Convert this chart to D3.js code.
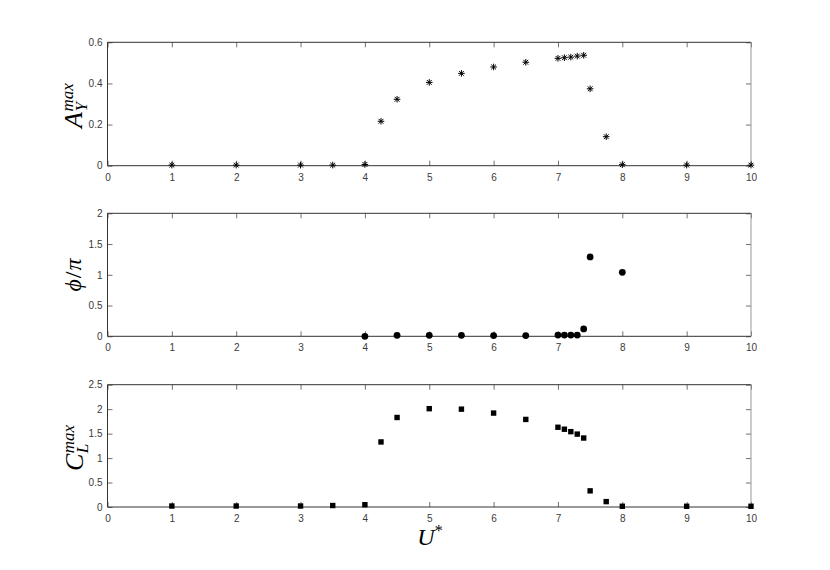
<!DOCTYPE html>
<html><head><meta charset="utf-8">
<script src="https://cdn.jsdelivr.net/npm/d3@7"></script>
<style>body{margin:0;background:#fff}svg{display:block}</style>
</head><body>
<svg id="c" width="830" height="570"></svg>
<script>
const xTicks = [0,1,2,3,4,5,6,7,8,9,10];
const uA = [1,2,3,3.5,4,4.25,4.5,5,5.5,6,6.5,7,7.1,7.2,7.3,7.4,7.5,7.75,8,9,10];
const aY = [0.003,0.003,0.003,0.003,0.006,0.216,0.323,0.405,0.449,0.480,0.503,0.522,0.525,0.528,0.533,0.537,0.374,0.141,0.005,0.003,0.003];
const uPhi = [4,4.5,5,5.5,6,6.5,7,7.1,7.2,7.3,7.4,7.5,8];
const phi = [0.0,0.016,0.016,0.016,0.012,0.012,0.02,0.02,0.02,0.02,0.12,1.29,1.04];
const uCL = [1,2,3,3.5,4,4.25,4.5,5,5.5,6,6.5,7,7.1,7.2,7.3,7.4,7.5,7.75,8,9,10];
const cl = [0.02,0.02,0.02,0.03,0.047,1.33,1.83,2.01,2.00,1.92,1.79,1.63,1.59,1.54,1.49,1.41,0.33,0.11,0.015,0.015,0.015];
const yTicksA = [0,0.2,0.4,0.6];
const yTicksPhi = [0,0.5,1,1.5,2];
const yTicksCL = [0,0.5,1,1.5,2,2.5];

const svg = d3.select("#c");
svg.append("rect").attr("width",830).attr("height",570).attr("fill","#fff");
const x = d3.scaleLinear().domain([0,10]).range([107.5,751]);
const panels = [
  {top:42.3,bottom:165.7,dom:[0,0.6],ticks:yTicksA,xs:uA,ys:aY,mark:"star"},
  {top:213.3,bottom:336.3,dom:[0,2],ticks:yTicksPhi,xs:uPhi,ys:phi,mark:"circle"},
  {top:384.7,bottom:507,dom:[0,2.5],ticks:yTicksCL,xs:uCL,ys:cl,mark:"square"}
];
const fmt = d => String(d);
panels.forEach(p=>{
  const y = d3.scaleLinear().domain(p.dom).range([p.bottom,p.top]);
  const g = svg.append("g");
  const axB = g.append("g").attr("transform",`translate(0,${p.bottom})`)
    .call(d3.axisBottom(x).tickValues(xTicks).tickSize(-5).tickPadding(8).tickFormat(fmt));
  const axT = g.append("g").attr("transform",`translate(0,${p.top})`)
    .call(d3.axisTop(x).tickValues(xTicks).tickSize(-5).tickFormat(""));
  const axL = g.append("g").attr("transform",`translate(${x(0)},0)`)
    .call(d3.axisLeft(y).tickValues(p.ticks).tickSize(-5).tickPadding(5).tickFormat(fmt));
  const axR = g.append("g").attr("transform",`translate(${x(10)},0)`)
    .call(d3.axisRight(y).tickValues(p.ticks).tickSize(-5).tickFormat(""));
  [axB,axT,axL,axR].forEach(a=>{
    a.select(".domain").remove();
    a.selectAll(".tick line").attr("stroke","#4d4d4d").attr("stroke-width",0.8);
    a.selectAll("text").attr("fill","#3a3a3a").style("font-family","Liberation Sans, Arial, sans-serif").style("font-size","10px");
  });
  g.append("path").attr("d",`M${x(0)},${p.top}H${x(10)}M${x(0)},${p.top}V${p.bottom}H${x(10)}`)
    .attr("fill","none").attr("stroke","#333").attr("stroke-width",1);
  g.append("line").attr("x1",x(10)).attr("x2",x(10)).attr("y1",p.top).attr("y2",p.bottom)
    .attr("stroke","#999").attr("stroke-width",1);
  const pts = p.xs.map((u,i)=>[x(u),y(p.ys[i])]);
  const mg = g.append("g");
  if(p.mark==="star"){
    const r=3.3,d=2.4;
    mg.selectAll("path").data(pts).join("path")
      .attr("d",q=>`M${q[0]-r},${q[1]}h${2*r}M${q[0]},${q[1]-r}v${2*r}M${q[0]-d},${q[1]-d}l${2*d},${2*d}M${q[0]-d},${q[1]+d}l${2*d},${-2*d}`)
      .attr("stroke","#000").attr("stroke-width",1).attr("fill","none");
  } else if(p.mark==="circle"){
    mg.selectAll("circle").data(pts).join("circle")
      .attr("cx",q=>q[0]).attr("cy",q=>q[1]).attr("r",3.4).attr("fill","#000");
  } else {
    const s=5.4;
    mg.selectAll("rect").data(pts).join("rect")
      .attr("x",q=>q[0]-s/2).attr("y",q=>q[1]-s/2).attr("width",s).attr("height",s).attr("fill","#000");
  }
});

const serif = "Liberation Serif, Times New Roman, serif";
function scriptLabel(cx, cy, base, sub, sup){
  const g = svg.append("g").attr("transform",`translate(${cx},${cy}) rotate(-90)`);
  const t = g.append("text").attr("x",-25).attr("y",0).attr("font-family",serif).attr("font-style","italic")
    .attr("font-size",26).attr("fill","#000").text(base);
  const w = t.node().getComputedTextLength();
  g.append("text").attr("x",-25+w+0.5).attr("y",5).attr("font-family",serif).attr("font-style","italic")
    .attr("font-size",17).attr("fill","#000").text(sub);
  g.append("text").attr("x",-25+w+0.5).attr("y",-9.5).attr("font-family",serif).attr("font-style","italic")
    .attr("font-size",17).attr("fill","#000").text(sup);
}
scriptLabel(82,103,"A","Y","max");
scriptLabel(83,446,"C","L","max");
{
  const g = svg.append("g").attr("transform",`translate(81,275) rotate(-90)`);
  g.append("text").attr("x",0).attr("y",0).attr("text-anchor","middle").attr("font-family",serif)
    .attr("font-size",24).attr("fill","#000")
    .html('<tspan font-style="italic">ϕ</tspan><tspan dx="1">/</tspan><tspan font-style="italic" dx="1">π</tspan>');
}
svg.append("text").attr("x",430).attr("y",545).attr("text-anchor","middle").attr("font-family",serif)
  .attr("font-size",24).attr("fill","#000")
  .html('<tspan font-style="italic">U</tspan><tspan font-size="16" dy="-9">*</tspan>');
</script>
</body></html>
